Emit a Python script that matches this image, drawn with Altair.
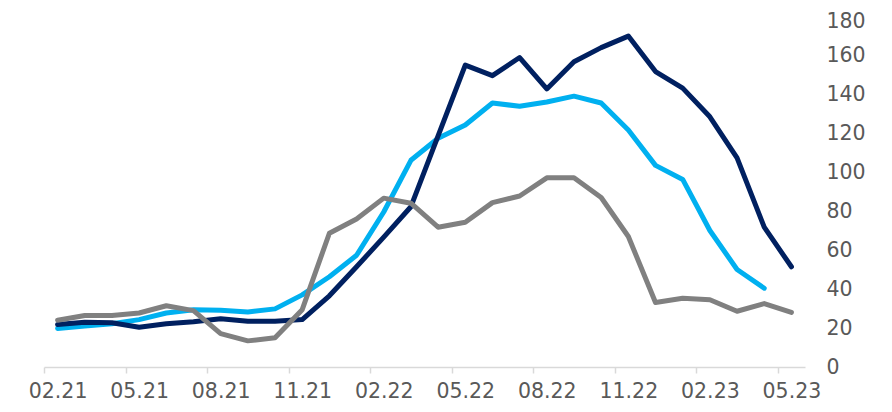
import altair as alt
import pandas as pd

months = ["02.21", "03.21", "04.21", "05.21", "06.21", "07.21", "08.21", "09.21",
          "10.21", "11.21", "12.21", "01.22", "02.22", "03.22", "04.22", "05.22",
          "06.22", "07.22", "08.22", "09.22", "10.22", "11.22", "12.22", "01.23",
          "02.23", "03.23", "04.23", "05.23"]

light_blue = [19.8, 21.0, 22.2, 24.3, 27.7, 29.4, 29.1, 28.2, 29.8, 37.0, 46.3, 57.3,
              79.5, 106.0, 117.3, 124.1, 135.4, 133.7, 135.9, 138.9, 135.4, 121.5,
              103.4, 96.2, 70.0, 50.0, 40.4, None]
dark_navy = [21.8, 23.0, 22.7, 20.4, 22.2, 23.2, 24.7, 23.5, 23.5, 24.3, 36.5, 51.4,
             66.6, 82.2, 118.5, 154.8, 149.4, 158.7, 142.6, 156.5, 163.8, 169.7,
             151.5, 143.0, 128.3, 107.2, 71.7, 51.4]
gray = [24.0, 26.4, 26.4, 27.7, 31.4, 28.9, 17.1, 13.4, 15.0, 29.4, 68.6, 75.9,
        86.6, 84.0, 71.7, 74.2, 84.3, 87.7, 97.0, 97.0, 86.9, 66.9, 33.1, 35.3,
        34.5, 28.6, 32.5, 28.0]

series_names = ["Series 1", "Series 2", "Series 3"]
series_colors = ["#00b0f0", "#002060", "#808080"]
tick_labels = months[::3]
y_ticks = list(range(0, 181, 20))

rows = []
for name, vals in zip(series_names, [light_blue, dark_navy, gray]):
    for m, v in zip(months, vals):
        if v is not None:
            rows.append({"month": m, "value": v, "series": name})
df = pd.DataFrame(rows)

step = 761 / 28

chart = alt.Chart(df).mark_line(strokeWidth=5, strokeCap="round", strokeJoin="round").encode(
    x=alt.X("month:O", sort=months,
            scale=alt.Scale(type="point", domain=months, padding=0.5),
            axis=alt.Axis(title=None, values=tick_labels, labelAngle=0,
                          domainColor="#d9d9d9", domainWidth=1.5,
                          tickColor="#d9d9d9", tickWidth=1.5, tickSize=6,
                          tickOffset=-step / 2, labelOffset=step / 2,
                          labelPadding=8, labelFont="DejaVu Sans", labelFontSize=20.5,
                          labelColor="#595959", grid=False)),
    y=alt.Y("value:Q", scale=alt.Scale(domain=[0, 180], nice=False),
            axis=alt.Axis(title=None, orient="right", values=y_ticks, domain=False,
                          ticks=False, grid=False, labelPadding=21, labelAlign="left",
                          labelOffset={"condition": {"test": "datum.value == 180", "value": 5},
                                       "value": 0},
                          labelFont="DejaVu Sans", labelFontSize=20.5, labelColor="#595959")),
    color=alt.Color("series:N", scale=alt.Scale(domain=series_names, range=series_colors),
                    legend=None),
).properties(
    width=761, height=351,
    autosize=alt.AutoSizeParams(type="none"),
    padding={"left": 36, "top": 8, "right": 75, "bottom": 37},
).configure_view(stroke=None)

chart.save("out.html", embed_options={"renderer": "svg", "actions": False})
